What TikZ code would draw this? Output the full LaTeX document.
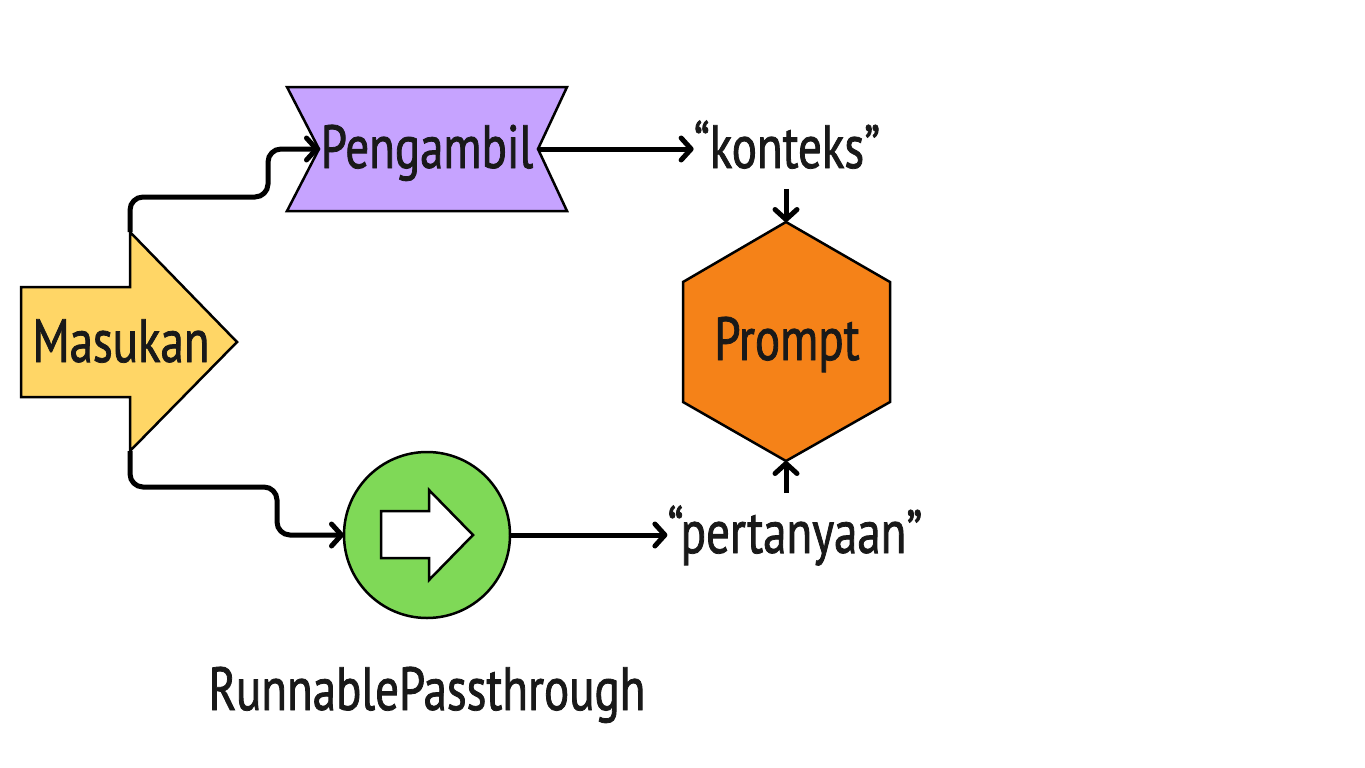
\documentclass[tikz,border=0pt]{standalone}
\usepackage{fontspec}
\setmainfont{PT Sans}[FakeStretch=0.77, FakeBold=1.3]
\usetikzlibrary{arrows.meta}

\definecolor{inputyellow}{HTML}{FFD666}
\definecolor{retrlilac}{HTML}{C6A3FF}
\definecolor{promptorange}{HTML}{F58218}
\definecolor{passgreen}{HTML}{7FD957}

\tikzset{
    shape line/.style={draw=black, line width=2.5pt, line join=miter},
    flow/.style={line width=5pt, rounded corners=13pt, -{Straight Barb[length=10pt,width=22pt,round]}},
    word/.style={font=\fontsize{61}{70}\selectfont, anchor=base, inner sep=0pt, text=black!90}
}

\begin{document}
\begin{tikzpicture}[x=1pt, y=-1pt]
    \useasboundingbox[fill=white] (0,0) rectangle (1365,768);

    % shape corners
    \coordinate (inTop) at (130,232);
    \coordinate (inBot) at (130,451);
    \coordinate (inTip) at (237,342);
    \coordinate (retrIn) at (319,149);
    \coordinate (retrOut) at (538,149);
    \coordinate (hexTop) at (786,222);
    \coordinate (hexBot) at (786,461);
    \coordinate (passIn) at (344,535);
    \coordinate (passOut) at (510,535);

    % Masukan
    \draw[shape line, fill=inputyellow] (21,287) -- (130,287) -- (inTop) -- (inTip)
        -- (inBot) -- (130,397) -- (21,397) -- cycle;
    % Pengambil
    \draw[shape line, fill=retrlilac] (287,87) -- (567,87) -- (retrOut) -- (567,211)
        -- (287,211) -- (retrIn) -- cycle;
    % Prompt
    \draw[shape line, fill=promptorange] (hexTop) -- (890,282) -- (890,402) -- (hexBot)
        -- (683,402) -- (683,282) -- cycle;
    % RunnablePassthrough
    \draw[shape line, fill=passgreen] (427,535) circle (83);
    \draw[shape line, fill=white] (381,511) -- (429,511) -- (429,490) -- (473,535)
        -- (429,580) -- (429,558) -- (381,558) -- cycle;

    \node[word] (masukan) at (121,362) {Masukan};
    \node[word] (pengambil) at (427,168) {Pengambil};
    \node[word] (prompt) at (787,360) {Prompt};
    \node[word] (konteks) at (787,168) {“konteks”};
    \node[word] (pertanyaan) at (795,553) {“pertanyaan”};
    \node[word] (passname) at (427,710) {RunnablePassthrough};

    \coordinate (bendA) at (268,197);
    \coordinate (bendB) at (277,487);

    \draw[flow] (inTop) |- (bendA) |- (retrIn);
    \draw[flow] (inBot) |- (bendB) |- (passIn);
    \draw[flow] (retrOut) -- (konteks.west |- retrOut);
    \draw[flow] (passOut) -- (pertanyaan.west |- passOut);
    \draw[flow] (hexTop |- konteks.south) ++(0,20) -- (hexTop);
    \draw[flow] (786,493) -- (hexBot);
\end{tikzpicture}
\end{document}
